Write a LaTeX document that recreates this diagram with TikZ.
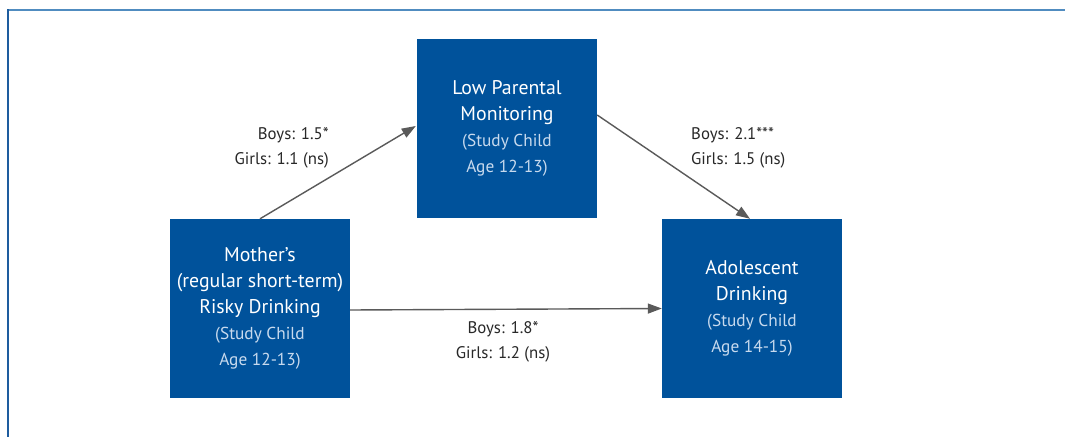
\documentclass[tikz,border=0pt]{standalone}
\usepackage{fontspec}
\setmainfont{PT Sans}
\usetikzlibrary{arrows.meta}
\definecolor{boxblue}{RGB}{0,82,155}
\definecolor{subblue}{RGB}{200,218,238}
\definecolor{framelight}{RGB}{80,140,192}
\definecolor{framedark}{RGB}{30,92,158}
\definecolor{arrowgray}{RGB}{90,90,90}
\definecolor{labelgray}{RGB}{40,40,40}
\tikzset{
  varbox/.style={fill=boxblue, draw=none, minimum width=180pt, minimum height=179pt,
    inner sep=0pt, align=center, text=white, font=\fontsize{19.8}{26}\selectfont},
  conn/.style={draw=arrowgray, line width=1.4pt, -{Triangle[length=14pt,width=10pt]}},
  coef/.style={text=labelgray, font=\fontsize{16.8}{25}\selectfont, inner sep=0pt},
}
\newcommand{\subtxt}[1]{{\color{subblue}\fontsize{17.3}{23}\selectfont #1}}
\begin{document}
\begin{tikzpicture}[x=1pt,y=1pt]
\useasboundingbox (0,0) rectangle (1065,437);
\fill[white] (0,0) rectangle (1065,437);
\draw[framelight, line width=2pt] (7,426.5) -- (1065,426.5);
\draw[framedark, line width=2pt] (7.5,427.5) -- (7.5,0);
\node[varbox] (mother) at (260,128.5) {Mother's\\(regular short-term)\\Risky Drinking\\\subtxt{(Study Child}\\\subtxt{Age 12-13)}};
\node[varbox] (monitor) at (507,308.5) {Low Parental\\Monitoring\\\subtxt{(Study Child}\\\subtxt{Age 12-13)}};
\node[varbox] (adol) at (752,128.5) {Adolescent\\Drinking\\\subtxt{(Study Child}\\\subtxt{Age 14-15)}};
\draw[conn] (mother.north) -- ([xshift=-1pt,yshift=2.5pt]monitor.west);
\draw[conn] ([yshift=13.5pt]monitor.east) -- ([xshift=-2pt]adol.north);
\draw[conn] ([yshift=-1.5pt]mother.east) -- (adol.west);
\node[coef, anchor=east, align=right] (l1) at (329,289.5) {Boys: 1.5*\\Girls: 1.1 (ns)};
\node[coef, anchor=west, align=left] (l2) at (691,289.5) {Boys: 2.1***\\Girls: 1.5 (ns)};
\node[coef, align=center] (l3) at (503,95) {Boys: 1.8*\\Girls: 1.2 (ns)};
\end{tikzpicture}
\end{document}
